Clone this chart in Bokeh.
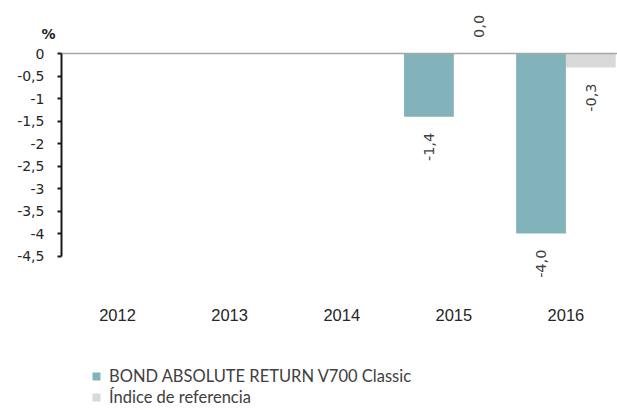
import math
from bokeh.plotting import figure
from bokeh.models import (ColumnDataSource, Range1d, FixedTicker, LinearAxis,
                          Label, Legend, LegendItem)
from bokeh.core.properties import value
from bokeh.embed import file_html
from bokeh.resources import INLINE

years = ["2012", "2013", "2014", "2015", "2016"]
fund = [float("nan"), float("nan"), float("nan"), -1.4, -4.0]
bench = [float("nan"), float("nan"), float("nan"), 0.0, -0.3]
fund_name = "BOND ABSOLUTE RETURN V700 Classic"
bench_name = "Índice de referencia"
y_ticks = [0, -0.5, -1, -1.5, -2, -2.5, -3, -3.5, -4, -4.5]

FUND_COLOR = "#82B3BA"
BENCH_COLOR = "#D9D9D9"
TXT = "#404040"
BAR_W = 0.444


def fmt_tick(v):
    s = ("%g" % v) if v == int(v) else ("%.1f" % v)
    return s.replace(".", ",")


def fmt_val(v):
    return ("%.1f" % v).replace(".", ",")


p = figure(x_range=Range1d(-0.544, 4.960), y_range=Range1d(-7.94, 1.19),
           width=617, height=410, output_backend="svg", toolbar_location=None,
           x_axis_location=None, y_axis_location=None,
           min_border_left=0, min_border_right=0, min_border_top=0, min_border_bottom=0)
p.outline_line_color = None
p.grid.grid_line_color = None

centers = [i + 0.5 for i in range(len(years))]
src = ColumnDataSource(dict(
    year=years, fund=fund, bench=bench,
    xf=[c - BAR_W / 2 for c in centers], xb=[c + BAR_W / 2 for c in centers]))
r1 = p.vbar(x="xf", top="fund", bottom=0, width=BAR_W, source=src,
            fill_color=FUND_COLOR, line_color=None)
r2 = p.vbar(x="xb", top="bench", bottom=0, width=BAR_W, source=src,
            fill_color=BENCH_COLOR, line_color=None)

# data labels
neg = dict(x=[], v=[], t=[])
pos = dict(x=[], v=[], t=[])
for c, f, b in zip(centers, fund, bench):
    for val, xx in ((f, c - BAR_W / 2), (b, c + BAR_W / 2)):
        if val is None or math.isnan(val):
            continue
        d = neg if val < 0 else pos
        d["x"].append(xx)
        d["v"].append(val)
        d["t"].append(fmt_val(val))

for d, align, yoff in ((neg, "right", 16), (pos, "left", -16)):
    if not d["x"]:
        continue
    p.text(x="x", y="v", text="t", source=ColumnDataSource(d),
           angle=math.pi / 2, text_align=align, text_baseline="middle",
           y_offset=yoff, text_font=value("DejaVu Sans"), text_font_size="14.5px",
           text_color=TXT)

# zero line (horizontal axis crossing at 0)
zero_axis = LinearAxis(fixed_location=0, bounds=(0, 4.96), ticker=FixedTicker(ticks=[]))
zero_axis.axis_line_color = "#A6A6A6"
zero_axis.axis_line_width = 1.5
zero_axis.major_tick_line_color = None
zero_axis.minor_tick_line_color = None
p.add_layout(zero_axis, "below")

# category labels
year_axis = LinearAxis(fixed_location=-5.503, ticker=FixedTicker(ticks=centers))
year_axis.major_label_overrides = {c: y for c, y in zip(centers, years)}
year_axis.axis_line_color = None
year_axis.major_tick_line_color = None
year_axis.minor_tick_line_color = None
year_axis.major_label_standoff = 2
year_axis.major_label_text_font = "Liberation Sans"
year_axis.major_label_text_font_size = "16.5px"
year_axis.major_label_text_color = "#262626"
p.add_layout(year_axis, "below")

# value axis
yax = LinearAxis(fixed_location=0, ticker=FixedTicker(ticks=y_ticks), bounds=(-4.5, 0))
yax.major_label_overrides = {t: fmt_tick(t) for t in y_ticks}
yax.axis_line_color = "#1a1a1a"
yax.axis_line_width = 2
yax.major_tick_line_color = "#1a1a1a"
yax.major_tick_line_width = 2
yax.major_tick_out = 4
yax.major_tick_in = 0
yax.minor_tick_line_color = None
yax.major_label_standoff = 13
yax.major_label_text_font = "DejaVu Sans"
yax.major_label_text_font_size = "14px"
yax.major_label_text_color = "#262626"
p.add_layout(yax, "left")

p.add_layout(Label(x=-0.116, y=0.434, text="%", text_align="center", text_baseline="middle",
                   text_font="DejaVu Sans", text_font_style="bold", text_font_size="14px",
                   text_color="#1a1a1a"))

legend = Legend(items=[LegendItem(label=fund_name, renderers=[r1]),
                       LegendItem(label=bench_name, renderers=[r2])],
                location=(91, 3), orientation="vertical")
legend.border_line_color = None
legend.background_fill_alpha = 0
legend.glyph_width = 10
legend.glyph_height = 10
legend.label_standoff = 8
legend.label_height = 18
legend.spacing = 1
legend.padding = 0
legend.margin = 0
legend.label_text_font = "Lato"
legend.label_text_font_size = "16.5px"
legend.label_text_color = TXT
p.add_layout(legend, "center")

open("out.html", "w").write(file_html(p, INLINE))
